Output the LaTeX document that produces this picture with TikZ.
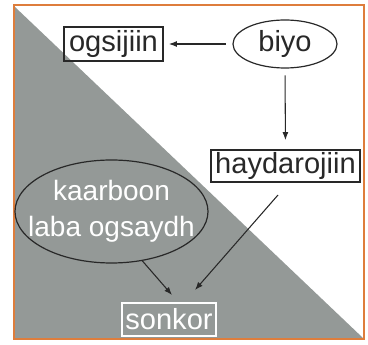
\documentclass[tikz,border=0pt]{standalone}
\usepackage{fontspec}
\setmainfont{Liberation Sans}
\usetikzlibrary{arrows.meta,positioning,shapes.geometric}

\definecolor{framecol}{RGB}{222,125,60}
\definecolor{shadecol}{RGB}{148,153,151}
\definecolor{inkcol}{RGB}{40,40,40}

\begin{document}
\begin{tikzpicture}[
    x=0.75pt,
    y=-0.75pt,
    box/.style={
      draw=inkcol,
      line width=0.9pt,
      inner sep=0pt,
      font=\fontsize{21.8}{26}\selectfont,
      text=inkcol
    },
    oval/.style={
      ellipse,
      draw=inkcol,
      line width=0.9pt,
      inner sep=0pt,
      align=center,
      font=\fontsize{21.8}{27}\selectfont,
      text=inkcol
    },
    link/.style={
      ->,
      draw=inkcol,
      line width=0.8pt
    },
    >={Latex[length=6pt,width=4.5pt]}
  ]

    \useasboundingbox (0,0) rectangle (368,345);

    % --- Shaded half and frame
    \fill[shadecol] (15,7) -- (15,338) -- (363,338) -- cycle;
    \draw[framecol, line width=1.9pt] (14,5) rectangle (364,339);

    % --- Top line
    \node[box, minimum width=74.25pt, minimum height=25.5pt] (oxygen) at (113.5,44) {ogsijiin};
    \node[oval, minimum width=78pt, minimum height=36pt] (water) at (285,44) {biyo};

    % --- Right side
    \node[box, minimum width=111.75pt, minimum height=24pt] (hydrogen) at (285.5,166) {haydarojiin};

    % --- Shaded side
    \node[oval, text=white, inner xsep=-12pt, font=\fontsize{21}{27}\selectfont,
      minimum width=144.75pt, minimum height=77.25pt] (carbon) at (111.5,211.5) {kaarboon\\laba ogsaydh};
    \node[box, draw=white, text=white, minimum width=70.5pt, minimum height=24.75pt] (sugar) at (169,319.5) {sonkor};

    % --- Free ends of the slanted arrows
    \coordinate (hydrogen-out) at (278,195);
    \coordinate (sugar-in-a) at (172,295);
    \coordinate (sugar-in-b) at (195,290);

    % --- Flow
    \draw[link, shorten <=5pt, shorten >=4pt] (water.west) -- (oxygen.east);
    \draw[link, shorten <=5pt, shorten >=7pt] (water.south) -- (hydrogen.north);
    \draw[link] (carbon.-58) -- (sugar-in-a);
    \draw[link] (hydrogen-out) -- (sugar-in-b);

  \end{tikzpicture}
\end{document}
